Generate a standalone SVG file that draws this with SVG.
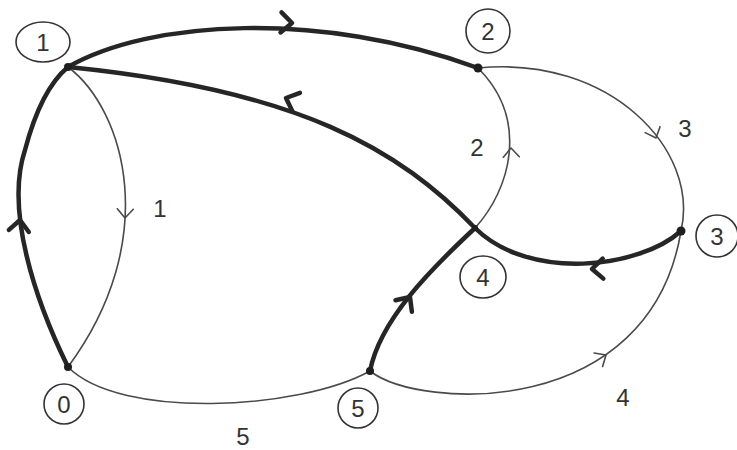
<svg xmlns="http://www.w3.org/2000/svg" width="737" height="450" viewBox="0 0 737 450">
<style>
.thick{fill:none;stroke:#262626;stroke-width:4.5;stroke-linecap:round;stroke-linejoin:round}
.thin{fill:none;stroke:#4a4a4a;stroke-width:1.6;stroke-linecap:round;stroke-linejoin:round}
.lab{fill:none;stroke:#333;stroke-width:1.6}
.dot{fill:#1e1e1e}
text{font-family:"Liberation Sans",Arial,sans-serif;font-size:24px;fill:#333;text-anchor:middle;dominant-baseline:central}
</style>
<defs>
<path id="chev" d="M-11,-10 L0,0 L-11,10"/>
<path id="chevs" d="M-9,-8 L0,0 L-9,8"/>
</defs>
<rect width="737" height="450" fill="#fff"/>
<g id="connectors">
<path class="thick" d="M68,367 C35,300 5,210 25,150 C35,112 50,82 68,67"/>
<path class="thick" d="M68,67 C150,20 320,10 478,68"/>
<path class="thick" d="M475,228 C400,150 300,90 68,67"/>
<path class="thick" d="M681,231 C640,268 530,282 475,228"/>
<path class="thick" d="M370,371 C380,320 430,270 475,228"/>
<path class="thin" d="M68,67 C125,110 162,240 68,367"/>
<path class="thin" d="M475,228 C510,190 530,120 478,68"/>
<path class="thin" d="M478,68 C610,55 700,150 681,231"/>
<path class="thin" d="M68,367 C120,420 300,410 370,371"/>
<path class="thin" d="M370,371 C420,410 650,420 681,231"/>
<use href="#chev" class="thick" transform="translate(20,220) rotate(-84)"/>
<use href="#chev" class="thick" transform="translate(292,23) rotate(3)"/>
<use href="#chev" class="thick" transform="translate(286,98) rotate(-158)"/>
<use href="#chev" class="thick" transform="translate(592,269) rotate(178)"/>
<use href="#chev" class="thick" transform="translate(410,297) rotate(-55)"/>
<use href="#chevs" class="thin" transform="translate(125,218) rotate(92)"/>
<use href="#chevs" class="thin" transform="translate(511,148) rotate(-92)"/>
<use href="#chevs" class="thin" transform="translate(656,138) rotate(68)"/>
<use href="#chevs" class="thin" transform="translate(606,355) rotate(-32)"/>
<text x="160" y="208">1</text>
<text x="477" y="147">2</text>
<text x="685" y="128">3</text>
<text x="623" y="397">4</text>
<text x="243" y="436">5</text>
</g>
<g id="node0"><circle class="dot" cx="68" cy="367" r="4"/><circle class="lab" cx="64" cy="404" r="20"/><text x="64" y="404">0</text></g>
<g id="node1"><circle class="dot" cx="68" cy="67" r="4"/><ellipse class="lab" cx="43" cy="42" rx="27" ry="20"/><text x="43" y="42">1</text></g>
<g id="node2"><circle class="dot" cx="478" cy="68" r="4.5"/><circle class="lab" cx="488" cy="31" r="22"/><text x="488" y="31">2</text></g>
<g id="node3"><circle class="dot" cx="681" cy="231" r="4.5"/><circle class="lab" cx="717" cy="236" r="21"/><text x="717" y="236">3</text></g>
<g id="node4"><circle class="dot" cx="475" cy="228" r="3"/><ellipse class="lab" cx="483" cy="277" rx="23" ry="21"/><text x="483" y="277">4</text></g>
<g id="node5"><circle class="dot" cx="370" cy="371" r="4"/><circle class="lab" cx="358" cy="408" r="20"/><text x="358" y="408">5</text></g>
</svg>
